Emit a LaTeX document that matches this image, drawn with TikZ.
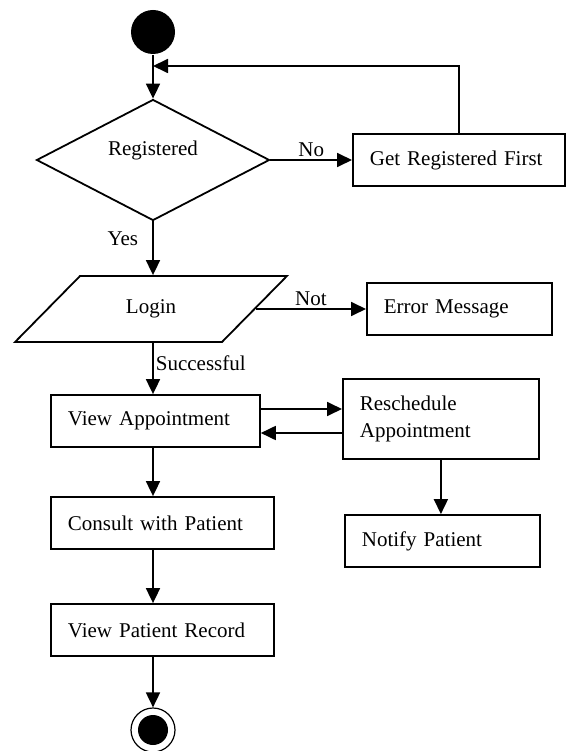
\documentclass[tikz,border=0pt]{standalone}
\usepackage{fontspec}
\setmainfont{Liberation Serif}
\usetikzlibrary{arrows.meta,positioning,shapes.geometric,calc}

\begin{document}
\begin{tikzpicture}[
  x=1pt, y=-1pt,
  font=\fontsize{21}{27}\selectfont,
  line width=1.8pt,
  act/.style={draw, rectangle, anchor=west, minimum height=52pt, inner xsep=17pt,
              inner ysep=4pt, align=left},
  dec/.style={draw, diamond, minimum width=233pt, minimum height=121pt, inner sep=0pt},
  io/.style={draw, trapezium, trapezium left angle=44, trapezium right angle=136,
             trapezium stretches=true, minimum width=272pt, minimum height=66pt},
  init/.style={circle, fill=black, minimum size=44pt, inner sep=0pt},
  final/.style={circle, draw, line width=1.2pt, minimum size=44pt, inner sep=0pt,
                path picture={\fill (path picture bounding box.center) circle (15pt);}},
  lbl/.style={inner sep=2pt},
  a/.style={-{Triangle[length=15pt,width=14pt]}}
]
\useasboundingbox (0,0) rectangle (565,751);

\node[init] (start) at (153,32) {};
\node[dec, label={[yshift=10pt]center:Registered}] (reg) at (153,160) {};
\node[act, text width=178pt] (getreg) at (352,160) {Get Registered First};
\node[io] (login) at (151,309) {Login};
\node[act, text width=151pt] (err) at (366,309) {Error Message};
\node[act, text width=175pt] (viewapp) at (50,421) {View Appointment};
\node[act, text width=162pt, minimum height=80pt] (resched) at (342,419) {Reschedule\\Appointment};
\node[act, text width=161pt] (notify) at (344,541) {Notify Patient};
\node[act, text width=189pt] (consult) at (50,523) {Consult with Patient};
\node[act, text width=189pt] (record) at (50,630) {View Patient Record};
\node[final] (stop) at (153,730) {};
\coordinate (merge) at (153,66);

\draw[a] (start) -- (reg);
\draw[a] (getreg.north) |- (merge);
\draw[a] (reg.east) -- node[lbl, above] (no) {No} (getreg.west);
\draw[a] (reg.south) -- node[lbl, left=12pt, pos=0.33] (yes) {Yes} (reg.south |- login.north);
\draw[a] (login.right side) -- node[lbl, above] (nt) {Not} (login.right side -| err.west);
\draw[a] (reg.south |- login.south) -- node[lbl, right, pos=0.4] (ok) {Successful} (reg.south |- viewapp.north);
\draw[a] ($(viewapp.east)+(0,-12)$) -- ($(viewapp.east -| resched.west)+(0,-12)$);
\draw[a] ($(viewapp.east -| resched.west)+(0,12)$) -- ($(viewapp.east)+(0,12)$);
\draw[a] (resched.south) -- (resched.south |- notify.north);
\draw[a] (viewapp.south -| start) -- (consult.north -| start);
\draw[a] (consult.south -| start) -- (record.north -| start);
\draw[a] (record.south -| start) -- (stop);
\end{tikzpicture}
\end{document}
